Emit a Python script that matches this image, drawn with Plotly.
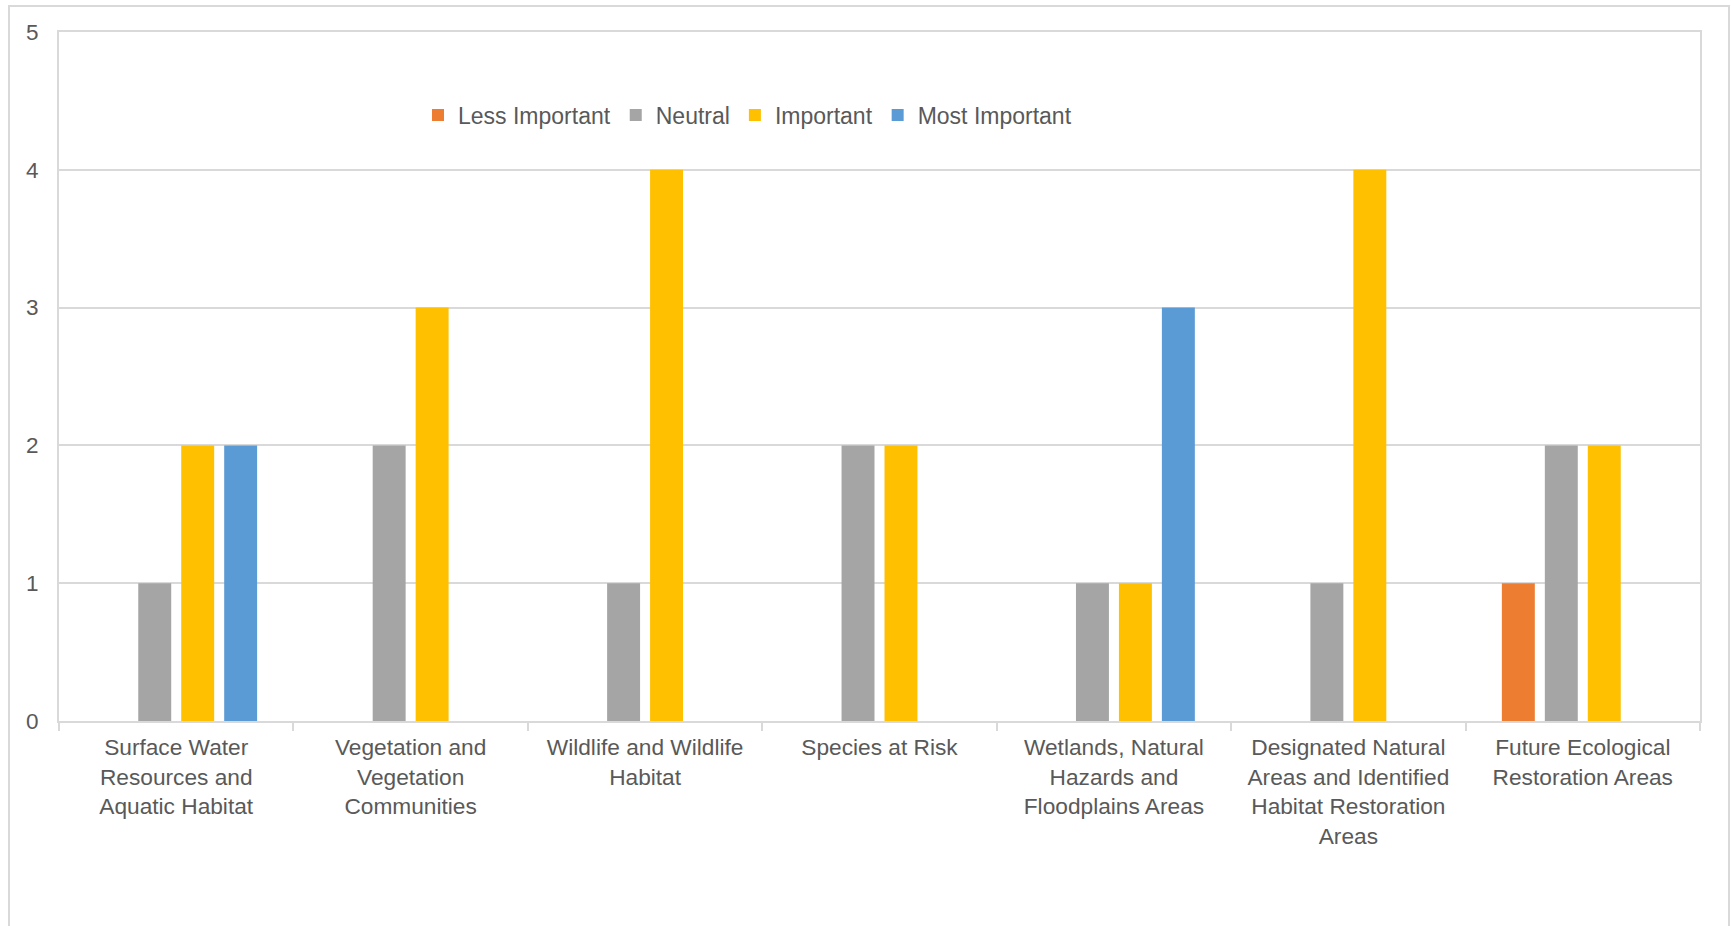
import plotly.graph_objects as go

categories = [
    "Surface Water<br>Resources and<br>Aquatic Habitat",
    "Vegetation and<br>Vegetation<br>Communities",
    "Wildlife and Wildlife<br>Habitat",
    "Species at Risk",
    "Wetlands, Natural<br>Hazards and<br>Floodplains Areas",
    "Designated Natural<br>Areas and Identified<br>Habitat Restoration<br>Areas",
    "Future Ecological<br>Restoration Areas",
]
less_important = [0, 0, 0, 0, 0, 0, 1]
neutral = [1, 2, 1, 2, 1, 1, 2]
important = [2, 3, 4, 2, 1, 4, 2]
most_important = [2, 0, 0, 0, 3, 0, 0]

series = [
    ("Less Important", less_important, "#ED7D31"),
    ("Neutral", neutral, "#A5A5A5"),
    ("Important", important, "#FFC000"),
    ("Most Important", most_important, "#5B9BD5"),
]

W, H = 1731, 926
L, R, T, B = 59, 31, 32, 205
pw, ph = W - L - R, H - T - B

fig = go.Figure()
for name, vals, col in series:
    fig.add_trace(go.Bar(name=name, x=categories, y=vals,
                         marker=dict(color=col, line=dict(width=0))))

FAM = "Liberation Sans, Arial, sans-serif"
GREY = "#595959"
xfont = dict(family=FAM, size=22.7, color=GREY)
yfont = dict(family=FAM, size=22.5, color=GREY)
lfont = dict(family=FAM, size=23, color=GREY)

def px_x(px):
    return (px - L) / pw

def px_y(py):
    return (H - B - py) / ph

fig.update_layout(
    width=W, height=H,
    margin=dict(l=L, r=R, t=T, b=B, autoexpand=False),
    paper_bgcolor="white", plot_bgcolor="white",
    barmode="group", bargap=0.267, bargroupgap=0.233,
    font=xfont,
    showlegend=True,
    legend=dict(orientation="h", x=px_x(418), y=px_y(115), xanchor="left", yanchor="middle",
                font=lfont, bgcolor="rgba(0,0,0,0)", itemclick=False,
                traceorder="normal", itemwidth=30),
    xaxis=dict(showgrid=False, showline=True, linecolor="#D9D9D9", linewidth=2, mirror=True,
               ticks="outside", tickson="boundaries", ticklen=8, tickcolor="#D9D9D9", tickwidth=2,
               tickfont=xfont, tickangle=0, ticklabelstandoff=5, fixedrange=True),
    yaxis=dict(range=[0, 5], dtick=1, showgrid=True, gridcolor="#D9D9D9", gridwidth=1.5,
               showline=True, linecolor="#D9D9D9", linewidth=2, mirror=True,
               zeroline=False, tickfont=yfont, ticks="", ticklabelstandoff=14, fixedrange=True),
    shapes=[dict(type="rect", xref="paper", yref="paper",
                 x0=px_x(9), x1=px_x(1729), y0=px_y(935), y1=px_y(6),
                 line=dict(color="#D9D9D9", width=2), fillcolor="rgba(0,0,0,0)", layer="below")],
)

fig.write_html("out.html", config={"displayModeBar": False})
